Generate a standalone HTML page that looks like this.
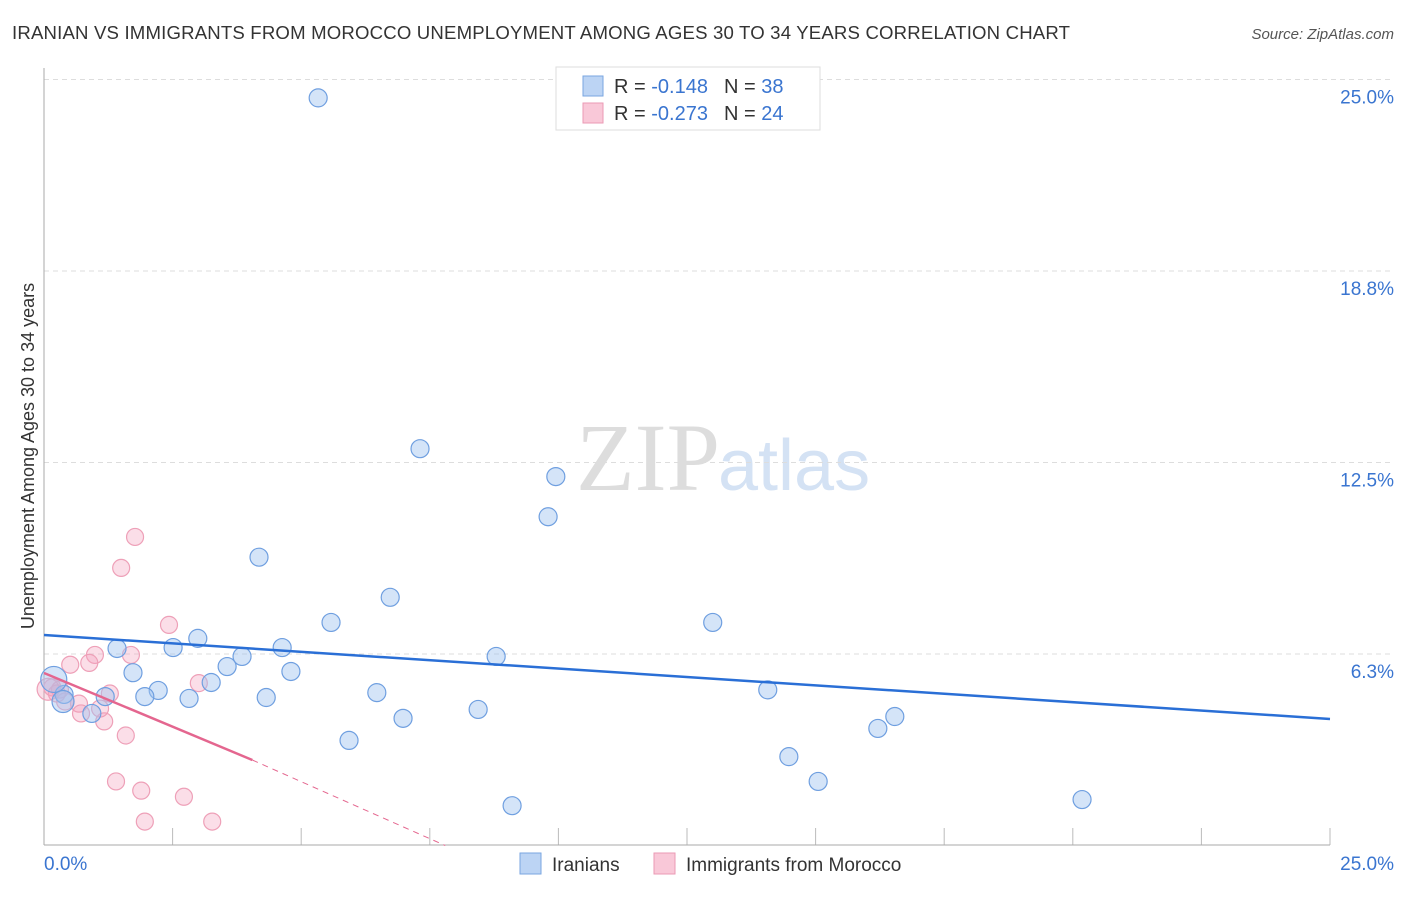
<!DOCTYPE html>
<html><head><meta charset="utf-8"><style>
body{margin:0;background:#fff;font-family:"Liberation Sans",sans-serif;}
</style></head><body>
<svg width="1406" height="892" xmlns="http://www.w3.org/2000/svg">
<text x="12" y="39" font-size="18.6" fill="#333" textLength="1058">IRANIAN VS IMMIGRANTS FROM MOROCCO UNEMPLOYMENT AMONG AGES 30 TO 34 YEARS CORRELATION CHART</text>
<text x="1394" y="39" font-size="15" fill="#555" font-style="italic" text-anchor="end">Source: ZipAtlas.com</text>
<text x="720" y="490" font-size="96" fill="#ddd" text-anchor="end" font-family="Liberation Serif">ZIP</text>
<text x="718" y="490" font-size="72" fill="#d4e2f4">atlas</text>
<g id="grid"></g>
<line x1="44" y1="68" x2="44" y2="845" stroke="#aaa"/>
<line x1="44" y1="845" x2="1330" y2="845" stroke="#aaa"/>
<text transform="translate(34,456) rotate(-90)" font-size="18" fill="#333" text-anchor="middle">Unemployment Among Ages 30 to 34 years</text>
<text x="44" y="870" font-size="19" fill="#3a75d0">0.0%</text>
<text x="1394" y="870" font-size="19" fill="#3a75d0" text-anchor="end">25.0%</text>
<g id="marks"></g>
<g>
<rect x="556" y="67" width="264" height="63" fill="#fff" stroke="#ddd"/>
<rect x="583" y="76" width="20" height="20" fill="#bcd4f4" stroke="#7aa6e0"/>
<rect x="583" y="103" width="20" height="20" fill="#f9c8d8" stroke="#eb9ab4"/>
<text x="614" y="93" font-size="20" fill="#333">R = <tspan fill="#3a75d0">-0.148</tspan><tspan dx="16">N = </tspan><tspan fill="#3a75d0">38</tspan></text>
<text x="614" y="120" font-size="20" fill="#333">R = <tspan fill="#3a75d0">-0.273</tspan><tspan dx="16">N = </tspan><tspan fill="#3a75d0">24</tspan></text>
</g>
<g>
<rect x="520" y="853" width="21" height="21" fill="#bcd4f4" stroke="#7aa6e0"/>
<text x="552" y="871" font-size="19" fill="#333">Iranians</text>
<rect x="654" y="853" width="21" height="21" fill="#f9c8d8" stroke="#eb9ab4"/>
<text x="686" y="871" font-size="19" fill="#333">Immigrants from Morocco</text>
</g>
</svg>
<script>
const yTicks=[6.25,12.5,18.75,25];
const yTickLabels=["6.3%","12.5%","18.8%","25.0%"];
const xTicks=[0,2.5,5,7.5,10,12.5,15,17.5,20,22.5,25];
const iranX=[5.33,7.31,9.95,9.8,4.18,6.73,5.58,13.0,2.99,2.51,4.63,1.42,8.79,3.85,3.56,4.8,1.73,3.25,2.22,6.47,14.07,1.96,1.19,4.32,2.82,0.39,0.37,8.44,6.98,16.54,16.21,0.93,5.93,14.48,15.05,20.18,9.1,0.19];
const iranY=[24.4,12.95,12.04,10.73,9.41,8.1,7.28,7.28,6.76,6.46,6.46,6.43,6.17,6.17,5.84,5.68,5.64,5.32,5.06,4.99,5.08,4.86,4.86,4.83,4.8,4.93,4.7,4.44,4.15,4.21,3.82,4.31,3.43,2.9,2.09,1.5,1.3,5.42];
const iranR=[9,9,9,9,9,9,9,9,9,9,9,9,9,9,9,9,9,9,9,9,9,9,9,9,9,9,11,9,9,9,9,9,9,9,9,9,9,13];
const morX=[1.77,1.5,2.43,0.99,1.69,0.51,0.88,3.01,1.28,0.16,0.31,0.25,0.68,0.72,1.17,1.59,1.4,1.89,2.72,1.96,3.27,1.09,0.08,0.41];
const morY=[10.07,9.06,7.2,6.22,6.22,5.9,5.96,5.3,4.96,5.16,5.09,4.96,4.63,4.31,4.05,3.59,2.09,1.79,1.59,0.78,0.78,4.47,5.1,4.7];
const iranLine=[6.87,4.13];
const morLine=[5.63,2.79,0];
const X=v=>44+v/25*1286, Y=v=>845.5-v/6.25*191.5;
const NS="http://www.w3.org/2000/svg";
const grid=document.getElementById('grid'),marks=document.getElementById('marks');
function mk(tag,attrs,parent){const e=document.createElementNS(NS,tag);for(const k in attrs)e.setAttribute(k,attrs[k]);parent.appendChild(e);return e;}
yTicks.forEach((t,i)=>{
 const l=mk('line',{x1:44,x2:1394,y1:Y(t),y2:Y(t),stroke:'#ddd','stroke-dasharray':'5,4'},grid);
 
 
 const tx=mk('text',{x:1394,y:Y(t)+24,'font-size':19,fill:'#3a75d0','text-anchor':'end'},grid);
 tx.textContent=yTickLabels[i];
 
 
});
xTicks.forEach(t=>{
 const l=mk('line',{x1:X(t),x2:X(t),y1:828,y2:845,stroke:'#bbb'},grid);
 
 
});
morX.forEach((x,i)=>{
 const c=mk('circle',{cx:X(x),cy:Y(morY[i]),r:i==22?11:8.5,fill:'rgba(244,160,190,0.35)',stroke:'#eea0b8','stroke-width':1.2},marks);
 
 
});
iranX.forEach((x,i)=>{
 const c=mk('circle',{cx:X(x),cy:Y(iranY[i]),r:iranR[i],fill:'rgba(160,195,240,0.45)',stroke:'#6f9fe0','stroke-width':1.2},marks);
 
 
});
const bl=mk('line',{x1:X(0),y1:Y(iranLine[0]),x2:X(25),y2:Y(iranLine[1]),stroke:'#2a6fd6','stroke-width':2.5},marks);


const pl=mk('line',{x1:X(0),y1:Y(morLine[0]),x2:X(4.05),y2:Y(morLine[1]),stroke:'#e4668f','stroke-width':2.5},marks);


const pd=mk('line',{x1:X(4.05),y1:Y(morLine[1]),x2:X(7.8),y2:Y(morLine[2]),stroke:'#e4668f','stroke-width':1,'stroke-dasharray':'6,5'},marks);


</script>
</body></html>
